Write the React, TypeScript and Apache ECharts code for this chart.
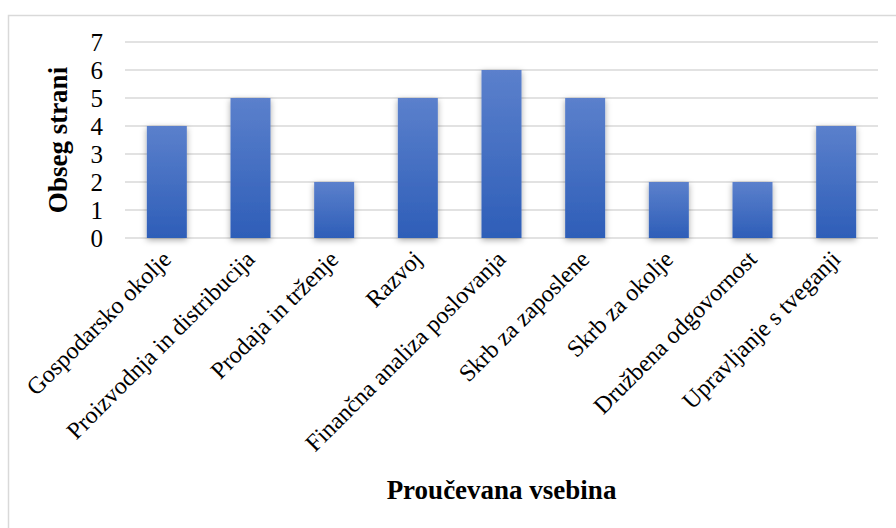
import React, { useEffect, useRef } from "react";
import * as echarts from "echarts";

const categories = [
  "Gospodarsko okolje",
  "Proizvodnja in distribucija",
  "Prodaja in trženje",
  "Razvoj",
  "Finančna analiza poslovanja",
  "Skrb za zaposlene",
  "Skrb za okolje",
  "Družbena odgovornost",
  "Upravljanje s tveganji",
];
const pageCounts = [4, 5, 2, 5, 6, 5, 2, 2, 4];
const yTitle = "Obseg strani";
const xTitle = "Proučevana vsebina";

const FONT = '"Liberation Serif", "Times New Roman", serif';

export default function App() {
  const ref = useRef<HTMLDivElement>(null);

  useEffect(() => {
    document.body.style.margin = "0";
    if (!ref.current) return;
    const chart = echarts.init(ref.current, undefined, { renderer: "svg" });
    chart.setOption({
      animation: false,
      backgroundColor: "#ffffff",
      textStyle: { fontFamily: FONT },
      graphic: [
        {
          type: "rect",
          left: 6,
          top: 13,
          shape: { width: 900, height: 530 },
          style: { fill: "none", stroke: "#d9d9d9", lineWidth: 1.5 },
          silent: true,
        },
      ],
      grid: { left: 125, right: 18, top: 42, bottom: 290, containLabel: false },
      xAxis: {
        type: "category",
        data: categories,
        axisLine: { show: false },
        axisTick: { show: false },
        axisLabel: {
          rotate: 45,
          interval: 0,
          margin: 17,
          color: "#000",
          fontFamily: FONT,
          fontSize: 24,
        },
        name: xTitle,
        nameLocation: "middle",
        nameGap: 238,
        nameTextStyle: {
          color: "#000",
          fontFamily: FONT,
          fontSize: 27,
          fontWeight: "bold",
        },
      },
      yAxis: {
        type: "value",
        min: 0,
        max: 7,
        interval: 1,
        axisLine: { show: false },
        axisTick: { show: false },
        splitLine: { lineStyle: { color: "#d9d9d9", width: 1.5 } },
        axisLabel: {
          color: "#000",
          fontFamily: FONT,
          fontSize: 25,
          margin: 22,
        },
        name: yTitle,
        nameLocation: "middle",
        nameGap: 54,
        nameRotate: 90,
        nameTextStyle: {
          color: "#000",
          fontFamily: FONT,
          fontSize: 27,
          fontWeight: "bold",
        },
      },
      series: [
        {
          type: "bar",
          data: pageCounts,
          barWidth: 40,
          itemStyle: {
            color: new echarts.graphic.LinearGradient(0, 0, 0, 1, [
              { offset: 0, color: "#5b80cc" },
              { offset: 1, color: "#2e5eb8" },
            ]),
            shadowBlur: 6,
            shadowColor: "rgba(0,0,0,0.35)",
            shadowOffsetY: 2,
          },
        },
      ],
    });
    return () => chart.dispose();
  }, []);

  return <div ref={ref} style={{ width: 896, height: 528 }} />;
}
